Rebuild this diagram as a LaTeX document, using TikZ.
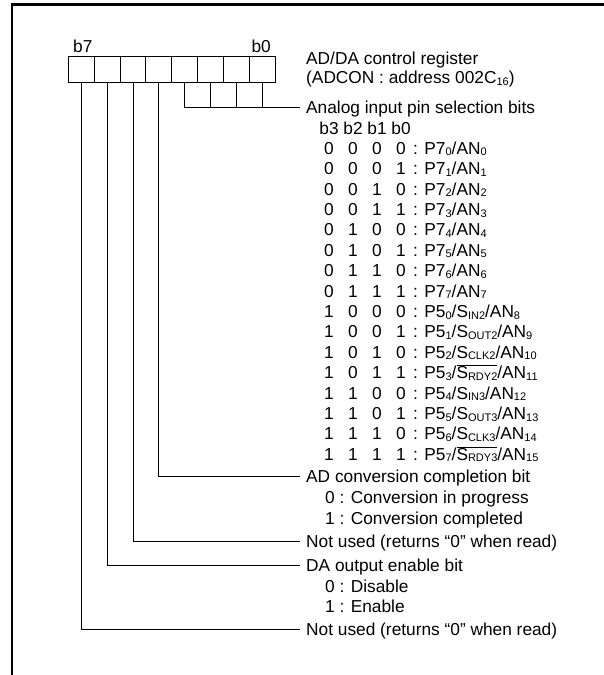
\documentclass[tikz,border=0pt]{standalone}
\usepackage{fontspec}
\setmainfont{Liberation Sans}
\newcommand\sbs[1]{\raisebox{-1.6pt}{\fontsize{11}{11}\selectfont #1}}
\newcommand\ovl[1]{$\overline{\hbox{#1}}$}
\newcommand\regrow[7]{%
  \node[dig] (#1a) at (329,#2) {#3};
  \node[dig] (#1b) at (353,#2) {#4};
  \node[dig] (#1c) at (377,#2) {#5};
  \node[dig] (#1d) at (401,#2) {#6};
  \node[lbl] (#1t) at (413,#2) {: #7};
}
\begin{document}
\begin{tikzpicture}[x=1pt,y=-1pt,
  font=\fontsize{17.3}{20}\selectfont,
  lbl/.style={anchor=west,inner sep=0pt,text height=12.4pt,text depth=0pt},
  dig/.style={anchor=center,inner sep=0pt,text height=12.4pt,text depth=0pt},
  cellbox/.style={draw,line width=0.9pt,minimum width=25.875pt,minimum height=26pt,inner sep=0pt,outer sep=0pt},
  lead/.style={line width=0.8pt}]
\useasboundingbox (0,0) rectangle (604,675);
% frame
\draw[line width=2.2pt] (12.3,675) -- (12.3,4.5) -- (604,4.5);
% register
\foreach \i in {0,...,7}
  \node[cellbox] (c\i) at ({275.3-25.875*(\i+0.5)},69.7) {};
\node[lbl] (lb7) at (73,46) {b7};
\node[anchor=east,inner sep=0pt,text height=12.4pt,text depth=0pt] (lb0) at (271,46) {b0};
% title
\node[lbl] (t1) at (306,58) {AD/DA control register};
\node[lbl] (t2) at (306,77.5) {(ADCON : address 002C\sbs{16})};
% analog selection
\node[lbl] (ana) at (306,107.7) {Analog input pin selection bits};
\draw[lead] (c3.south) |- ([xshift=-6pt]ana.west);
\foreach \i in {0,1,2}
  \draw[lead] (c\i.south) -- (c\i.south |- ana.west);
\node[dig] (h3) at (329,128) {b3};
\node[dig] (h2) at (353,128) {b2};
\node[dig] (h1) at (377,128) {b1};
\node[dig] (h0) at (401,128) {b0};
\regrow{ra}{148}{0}{0}{0}{0}{P7\sbs{0}/AN\sbs{0}}
\regrow{rb}{168.4}{0}{0}{0}{1}{P7\sbs{1}/AN\sbs{1}}
\regrow{rc}{188.8}{0}{0}{1}{0}{P7\sbs{2}/AN\sbs{2}}
\regrow{rd}{209.2}{0}{0}{1}{1}{P7\sbs{3}/AN\sbs{3}}
\regrow{re}{229.6}{0}{1}{0}{0}{P7\sbs{4}/AN\sbs{4}}
\regrow{rf}{250}{0}{1}{0}{1}{P7\sbs{5}/AN\sbs{5}}
\regrow{rg}{270.4}{0}{1}{1}{0}{P7\sbs{6}/AN\sbs{6}}
\regrow{rh}{290.8}{0}{1}{1}{1}{P7\sbs{7}/AN\sbs{7}}
\regrow{ri}{311.2}{1}{0}{0}{0}{P5\sbs{0}/S\sbs{IN2}/AN\sbs{8}}
\regrow{rj}{331.6}{1}{0}{0}{1}{P5\sbs{1}/S\sbs{OUT2}/AN\sbs{9}}
\regrow{rk}{352}{1}{0}{1}{0}{P5\sbs{2}/S\sbs{CLK2}/AN\sbs{10}}
\regrow{rl}{372.4}{1}{0}{1}{1}{P5\sbs{3}/\ovl{S\sbs{RDY2}}/AN\sbs{11}}
\regrow{rm}{392.8}{1}{1}{0}{0}{P5\sbs{4}/S\sbs{IN3}/AN\sbs{12}}
\regrow{rn}{413.2}{1}{1}{0}{1}{P5\sbs{5}/S\sbs{OUT3}/AN\sbs{13}}
\regrow{ro}{433.6}{1}{1}{1}{0}{P5\sbs{6}/S\sbs{CLK3}/AN\sbs{14}}
\regrow{rp}{454}{1}{1}{1}{1}{P5\sbs{7}/\ovl{S\sbs{RDY3}}/AN\sbs{15}}
% lower labels
\node[lbl] (adc) at (306,476) {AD conversion completion bit};
\node[lbl] (adc0) at (325,497) {0 : Conversion in progress};
\node[lbl] (adc1) at (325,518) {1 : Conversion completed};
\node[lbl] (nu1) at (306,541) {Not used (returns “0” when read)};
\node[lbl] (da) at (306,565) {DA output enable bit};
\node[lbl] (da0) at (325,586) {0 : Disable};
\node[lbl] (da1) at (325,606) {1 : Enable};
\node[lbl] (nu2) at (306,629) {Not used (returns “0” when read)};
\draw[lead] (c4.south) |- ([xshift=-6pt]adc.west);
\draw[lead] (c5.south) |- ([xshift=-6pt]nu1.west);
\draw[lead] (c6.south) |- ([xshift=-6pt]da.west);
\draw[lead] (c7.south) |- ([xshift=-6pt]nu2.west);
\end{tikzpicture}
\end{document}
